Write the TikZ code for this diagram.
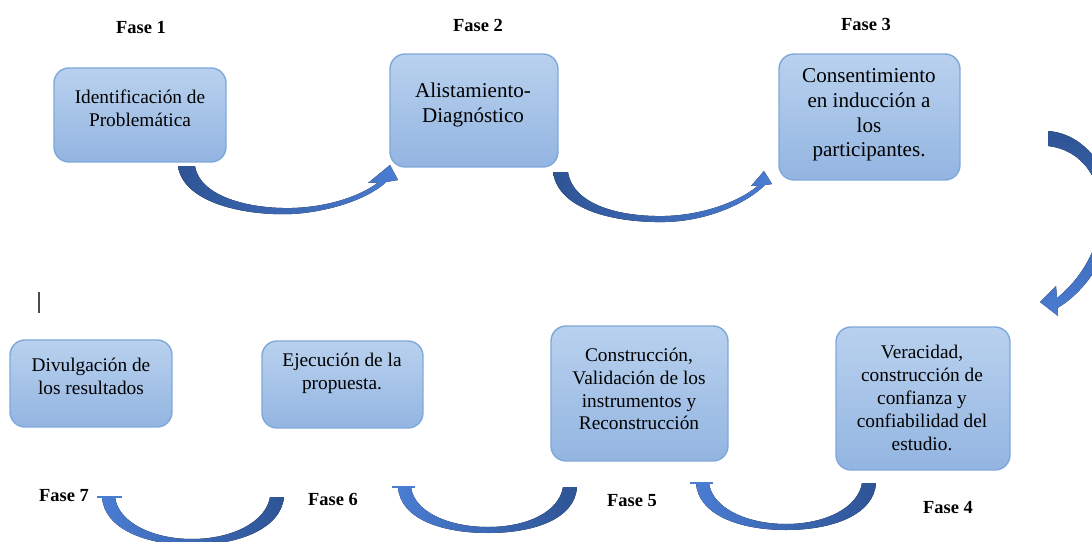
\documentclass[tikz,border=0pt]{standalone}
\usepackage{fontspec}
\setmainfont{Liberation Serif}
\definecolor{boxtop}{HTML}{B9D1EE}
\definecolor{boxbot}{HTML}{93B5E1}
\definecolor{boxedge}{HTML}{7EA8DA}
\definecolor{arrdark}{HTML}{2E5495}
\definecolor{arrlight}{HTML}{4A7CD2}
\begin{document}
\begin{tikzpicture}[x=0.02cm,y=-0.02cm,
  box/.style={draw=boxedge, line width=0.8pt, rounded corners=0.3cm, top color=boxtop, bottom color=boxbot, inner sep=0pt},
  txt/.style={align=center, font=\fontsize{11}{13}\selectfont, inner sep=0pt},
  txtb/.style={align=center, font=\fontsize{12}{14}\selectfont, inner sep=0pt},
  fase/.style={font=\fontsize{10.5}{12}\selectfont\bfseries, inner sep=0pt},
  arrlr/.style={left color=arrdark, right color=arrlight, draw=none},
  arrrl/.style={left color=arrlight, right color=arrdark, draw=none},
  arrtb/.style={top color=arrdark, bottom color=arrlight, draw=none},
  flat/.style={draw=arrlight, line width=1.3pt}]
\useasboundingbox (0,0) rectangle (1092,541);
\clip (0,0) rectangle (1092,541);

% boxes
\node (b1) [box, minimum width=3.44cm, minimum height=1.88cm] at (140,115) {};
\node (b2) [box, minimum width=3.36cm, minimum height=2.26cm] at (474,110.5) {};
\node (b3) [box, minimum width=3.62cm, minimum height=2.52cm] at (869.5,117) {};
\node (b4) [box, minimum width=3.48cm, minimum height=2.86cm] at (923,398.5) {};
\node (b5) [box, minimum width=3.54cm, minimum height=2.70cm] at (639.5,393.5) {};
\node (b6) [box, minimum width=3.22cm, minimum height=1.74cm] at (342.5,384.5) {};
\node (b7) [box, minimum width=3.24cm, minimum height=1.74cm] at (91,383.5) {};

% texts
\node (t1) [txt] at (140,108) {Identificación de\\Problemática};
\node (t2) [txtb] at (473,105) {Alistamiento-\\Diagnóstico};
\node (t3) [txtb] at (869,115) {Consentimiento\\en inducción a\\los\\participantes.};
\node (t4) [txt] at (922,398) {Veracidad,\\construcción de\\confianza y\\confiabilidad del\\estudio.};
\node (t5) [txt] at (639,389) {Construcción,\\Validación de los\\instrumentos y\\Reconstrucción};
\node (t6) [txt] at (342,373) {Ejecución de la\\propuesta.};
\node (t7) [txt] at (91,376) {Divulgación de\\los resultados};

% phase labels
\node (f1) [fase] at (141,28) {Fase 1};
\node (f2) [fase] at (478,25) {Fase 2};
\node (f3) [fase] at (866,24) {Fase 3};
\node (f4) [fase] at (948,508) {Fase 4};
\node (f5) [fase] at (632,501) {Fase 5};
\node (f6) [fase] at (333,499) {Fase 6};
\node (f7) [fase] at (64,496) {Fase 7};

% arrow 1 -> 2
\fill[arrlr] (178,166) .. controls (183,203) and (245,216) .. (292,214)
  .. controls (330,212) and (370,198) .. (386,182) -- (398,180) -- (390,165) -- (368,183) -- (378,182.5)
  .. controls (362,195) and (330,207) .. (292,208) .. controls (250,209) and (200,197) .. (195,166) -- cycle;
% arrow 2 -> 3
\fill[arrlr] (553,172) .. controls (558,210) and (615,223) .. (665,222)
  .. controls (710,221) and (748,202) .. (765,185) -- (772,184) -- (764,171) -- (751,186) -- (758,185.5)
  .. controls (742,200) and (705,215) .. (665,216) .. controls (620,217) and (573,205) .. (568,172) -- cycle;
% arrow 3 -> 4
\fill[arrtb] (1048,131) .. controls (1088,134) and (1113,175) .. (1113,212)
  .. controls (1113,250) and (1088,290) .. (1057.5,308) -- (1058,316) -- (1040,302) -- (1056,286) -- (1057,298)
  .. controls (1082,278) and (1101,245) .. (1101,212) .. controls (1101,180) and (1083,150) .. (1048,146) -- cycle;
% arrow 4 -> 5
\fill[arrrl] (696,483) .. controls (698,515) and (740,530) .. (786,530) .. controls (832,530) and (874,515) .. (876,483)
  -- (862,483) .. controls (858,508) and (825,524) .. (786,524) .. controls (747,524) and (712,508) .. (709,483) -- cycle;
\draw[flat] (690,483) -- (713,483);
% arrow 5 -> 6
\fill[arrrl] (398,487) .. controls (400,519) and (442,533) .. (488,533) .. controls (534,533) and (575,519) .. (577,487)
  -- (563,487) .. controls (559,512) and (527,527) .. (488,527) .. controls (449,527) and (414,512) .. (411,487) -- cycle;
\draw[flat] (392,487) -- (415,487);
% arrow 6 -> 7
\fill[arrrl] (102,497) .. controls (104,529) and (146,545) .. (192,545) .. controls (238,545) and (281,529) .. (284,497)
  -- (270,497) .. controls (266,522) and (232,539) .. (192,539) .. controls (152,539) and (118,522) .. (115,497) -- cycle;
\draw[flat] (97,497) -- (122,497);

% text cursor mark
\draw[black!70, line width=0.9pt] (39,292) -- (39,313);
\end{tikzpicture}
\end{document}
